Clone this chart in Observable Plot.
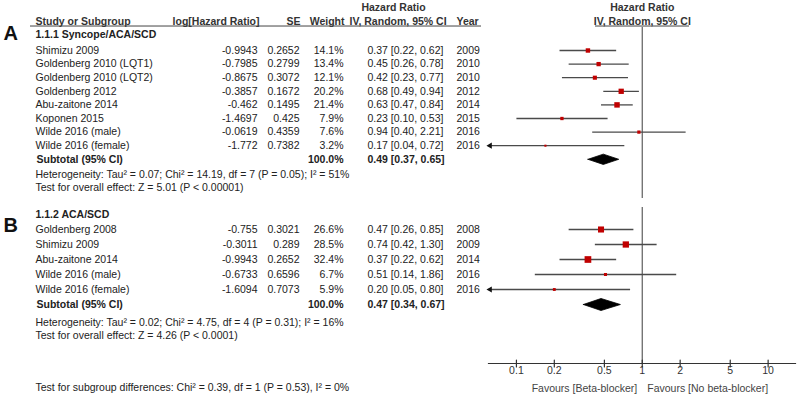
<!DOCTYPE html>
<html>
<head>
<meta charset="utf-8">
<script src="https://cdn.jsdelivr.net/npm/d3@7"></script>
<script src="https://cdn.jsdelivr.net/npm/@observablehq/plot@0.6"></script>
<style>
  html, body { margin: 0; padding: 0; background: #fff; }
  #chart svg { display: block; }
</style>
</head>
<body>
<div id="chart"></div>
<script>
// ---------------- DATA ----------------
const studiesA = ["Shimizu 2009", "Goldenberg 2010 (LQT1)", "Goldenberg 2010 (LQT2)", "Goldenberg 2012", "Abu-zaitone 2014", "Koponen 2015", "Wilde 2016 (male)", "Wilde 2016 (female)"];
const logHrA  = [-0.9943, -0.7985, -0.8675, -0.3857, -0.462, -1.4697, -0.0619, -1.772];
const seA     = [0.2652, 0.2799, 0.3072, 0.1672, 0.1495, 0.425, 0.4359, 0.7382];
const weightA = [14.1, 13.4, 12.1, 20.2, 21.4, 7.9, 7.6, 3.2];
const hrA     = [0.37, 0.45, 0.42, 0.68, 0.63, 0.23, 0.94, 0.17];
const lowA    = [0.22, 0.26, 0.23, 0.49, 0.47, 0.10, 0.40, 0.04];
const highA   = [0.62, 0.78, 0.77, 0.94, 0.84, 0.53, 2.21, 0.72];
const yearA   = [2009, 2010, 2010, 2012, 2014, 2015, 2016, 2016];
const subtotalA = {hr: 0.49, low: 0.37, high: 0.65, weight: 100.0};

const studiesB = ["Goldenberg 2008", "Shimizu 2009", "Abu-zaitone 2014", "Wilde 2016 (male)", "Wilde 2016 (female)"];
const logHrB  = [-0.755, -0.3011, -0.9943, -0.6733, -1.6094];
const seB     = [0.3021, 0.289, 0.2652, 0.6596, 0.7073];
const weightB = [26.6, 28.5, 32.4, 6.7, 5.9];
const hrB     = [0.47, 0.74, 0.37, 0.51, 0.20];
const lowB    = [0.26, 0.42, 0.22, 0.14, 0.05];
const highB   = [0.85, 1.30, 0.62, 1.86, 0.80];
const yearB   = [2008, 2009, 2014, 2016, 2016];
const subtotalB = {hr: 0.47, low: 0.34, high: 0.67, weight: 100.0};

const titleA = "1.1.1 Syncope/ACA/SCD";
const titleB = "1.1.2 ACA/SCD";
const hetA = "Heterogeneity: Tau² = 0.07; Chi² = 14.19, df = 7 (P = 0.05); I² = 51%";
const effA = "Test for overall effect: Z = 5.01 (P < 0.00001)";
const hetB = "Heterogeneity: Tau² = 0.02; Chi² = 4.75, df = 4 (P = 0.31); I² = 16%";
const effB = "Test for overall effect: Z = 4.26 (P < 0.0001)";
const subgroupTest = "Test for subgroup differences: Chi² = 0.39, df = 1 (P = 0.53), I² = 0%";

const xTicks = [0.1, 0.2, 0.5, 1, 2, 5, 10];
const favoursLeft = "Favours [Beta-blocker]";
const favoursRight = "Favours [No beta-blocker]";

// ---------------- LAYOUT / STYLE ----------------
const FONT = "'Liberation Sans', Arial, Helvetica, sans-serif";
const INK = "#222";
const HEAD_INK = "#333";
const RED = "#c00000";
const CI_COLOR = "#4a4a4a";
const RULE_COLOR = "#6a6a6a";
const X_DOMAIN = [0.06, 16.5];
const W = 800, ML = 488, MR = 5;
const COL = {study: 35, logHr: 257, se: 299, weight: 343, hr: 367, year: 456, hrHeadL: 349, hrHeadC: 393, panel: 3};
const dxAt = px => px - ML;
const tickShape = {draw(context, l) { context.moveTo(0, 0); context.lineTo(0, -l); }};

function rows(studies, logHr, se, weight, hr, low, high, year) {
  return studies.map((s, i) => ({row: i, study: s, logHr: logHr[i], se: se[i], weight: weight[i],
    hr: hr[i], low: low[i], high: high[i], year: year[i]}));
}
const ciText = d => `${d.hr.toFixed(2)} [${d.low.toFixed(2)}, ${d.high.toFixed(2)}]`;

function colText(data, text, px, anchor, extra = {}) {
  return Plot.text(data, {y: "row", text, frameAnchor: "left", dx: dxAt(px), textAnchor: anchor, fill: INK, ...extra});
}

function forestMarks(data, subtotal, subRow, diamondHalf) {
  const clipped = data.filter(d => d.low < X_DOMAIN[0]);
  const dia = [
    {x: subtotal.low, y: subRow}, {x: subtotal.hr, y: subRow - diamondHalf},
    {x: subtotal.high, y: subRow}, {x: subtotal.hr, y: subRow + diamondHalf},
    {x: subtotal.low, y: subRow}
  ];
  const sub = [{row: subRow, ...subtotal}];
  return [
    Plot.ruleX([1], {stroke: RULE_COLOR, strokeWidth: 1.3}),
    Plot.link(data, {x1: d => Math.max(d.low, X_DOMAIN[0]), x2: d => Math.min(d.high, X_DOMAIN[1]),
      y1: "row", y2: "row", stroke: CI_COLOR, strokeWidth: 1.3}),
    Plot.dot(clipped, {x: () => X_DOMAIN[0], y: "row", symbol: "triangle", rotate: -90, r: 2.3, dx: 1.5, fill: "#111", stroke: null}),
    Plot.dot(data, {x: "hr", y: "row", r: "weight", symbol: "square", fill: RED, stroke: null}),
    Plot.line(dia, {x: "x", y: "y", fill: "#000", stroke: "#000", strokeWidth: 0.8}),
    // table text
    colText(data, "study", COL.study, "start"),
    colText(data, d => String(d.logHr), COL.logHr, "end"),
    colText(data, d => String(d.se), COL.se, "end"),
    colText(data, d => d.weight.toFixed(1) + "%", COL.weight, "end"),
    colText(data, ciText, COL.hr, "start"),
    colText(data, d => String(d.year), COL.year, "start"),
    colText(sub, () => "Subtotal (95% CI)", COL.study + 1, "start", {fontWeight: "bold"}),
    colText(sub, d => d.weight.toFixed(1) + "%", COL.weight, "end", {fontWeight: "bold"}),
    colText(sub, ciText, COL.hr, "start", {fontWeight: "bold"})
  ];
}

const baseStyle = {fontFamily: FONT, fontSize: "10.5px", color: INK, background: "#fff"};
const rScale = {type: "sqrt", domain: [0, 100], range: [0, 6.64]};

// ---------------- PANEL A ----------------
const dataA = rows(studiesA, logHrA, seA, weightA, hrA, lowA, highA, yearA);
const headRowsA = {hr1: -3.16, hr2: -2.13, line: -1.8, title: -1.18, panel: -1.21, het: 9.1, eff: 10.05};
const tableHeaders = [
  {row: headRowsA.hr2, t: "Study or Subgroup", px: COL.study, a: "start"},
  {row: headRowsA.hr2, t: "log[Hazard Ratio]", px: COL.logHr + 2, a: "end"},
  {row: headRowsA.hr2, t: "SE", px: COL.se + 1, a: "end"},
  {row: headRowsA.hr2, t: "Weight", px: COL.weight + 1, a: "end"},
  {row: headRowsA.hr2, t: "IV, Random, 95% CI", px: COL.hrHeadL, a: "start"},
  {row: headRowsA.hr2, t: "Year", px: COL.year, a: "start"},
  {row: headRowsA.hr1, t: "Hazard Ratio", px: COL.hrHeadC, a: "middle"}
];
const plotHeaders = [
  {row: headRowsA.hr1, t: "Hazard Ratio"},
  {row: headRowsA.hr2, t: "IV, Random, 95% CI"}
];

const plotA = Plot.plot({
  width: W, height: 200,
  marginLeft: ML, marginRight: MR, marginTop: 27, marginBottom: 2,
  style: baseStyle,
  x: {type: "log", domain: X_DOMAIN, axis: null},
  y: {domain: [0, 10], range: [50, 186], axis: null},
  r: rScale,
  marks: [
    ...forestMarks(dataA, subtotalA, 8, 0.38),
    ...tableHeaders.map(h => Plot.text([h], {y: "row", text: "t", frameAnchor: "left", dx: dxAt(h.px), textAnchor: h.a,
      fill: HEAD_INK, fontWeight: 600})),
    Plot.text(plotHeaders, {x: () => 1, y: "row", text: "t", fill: HEAD_INK, fontWeight: 600}),
    Plot.ruleY([headRowsA.line], {insetLeft: dxAt(30), insetRight: (W - MR) - 481, stroke: "#444", strokeWidth: 1}),
    Plot.ruleY([headRowsA.line], {insetLeft: dxAt(595), insetRight: (W - MR) - 689, stroke: "#444", strokeWidth: 1}),
    Plot.text([{row: headRowsA.title}], {y: "row", text: () => titleA, frameAnchor: "left", dx: dxAt(COL.study),
      textAnchor: "start", fill: INK, fontWeight: "bold"}),
    Plot.text([{row: headRowsA.panel}], {y: "row", text: () => "A", frameAnchor: "left", dx: dxAt(COL.panel),
      textAnchor: "start", fill: "#111", fontWeight: "bold", fontSize: 20}),
    Plot.text([{row: headRowsA.het, t: hetA}, {row: headRowsA.eff, t: effA}], {y: "row", text: "t",
      frameAnchor: "left", dx: dxAt(COL.study), textAnchor: "start", fill: INK})
  ]
});

// ---------------- PANEL B ----------------
const dataB = rows(studiesB, logHrB, seB, weightB, hrB, lowB, highB, yearB);
const rowsB = {title: -1, panel: -0.23, het: 6.2, eff: 7.07, subgroup: 10.53, favours: 10.6};
const plotB = Plot.plot({
  width: W, height: 206,
  marginLeft: ML, marginRight: MR, marginTop: 7, marginBottom: 43,
  style: baseStyle,
  x: {type: "log", domain: X_DOMAIN, axis: null},
  y: {domain: [0, 5], range: [29, 104], axis: null},
  r: rScale,
  marks: [
    ...forestMarks(dataB, subtotalB, 5, 0.4),
    Plot.frame({anchor: "bottom", stroke: "#333", strokeWidth: 1.2}),
    Plot.vector(xTicks, {x: d => d, frameAnchor: "bottom", length: 7, anchor: "middle", shape: tickShape,
      stroke: "#333", strokeWidth: 1.2}),
    Plot.text(xTicks, {x: d => d, text: d => String(d), frameAnchor: "bottom", dy: 10.5, fill: "#333"}),
    Plot.text([{row: rowsB.favours}], {x: () => 1, y: "row", text: () => favoursLeft, textAnchor: "end", dx: -5, fill: "#444"}),
    Plot.text([{row: rowsB.favours}], {x: () => 1, y: "row", text: () => favoursRight, textAnchor: "start", dx: 5, fill: "#444"}),
    Plot.text([{row: rowsB.title}], {y: "row", text: () => titleB, frameAnchor: "left", dx: dxAt(COL.study),
      textAnchor: "start", fill: INK, fontWeight: "bold"}),
    Plot.text([{row: rowsB.panel}], {y: "row", text: () => "B", frameAnchor: "left", dx: dxAt(COL.panel),
      textAnchor: "start", fill: "#111", fontWeight: "bold", fontSize: 20}),
    Plot.text([{row: rowsB.het, t: hetB}, {row: rowsB.eff, t: effB}, {row: rowsB.subgroup, t: subgroupTest}],
      {y: "row", text: "t", frameAnchor: "left", dx: dxAt(COL.study), textAnchor: "start", fill: INK})
  ]
});

document.getElementById("chart").append(plotA, plotB);
</script>
</body>
</html>
